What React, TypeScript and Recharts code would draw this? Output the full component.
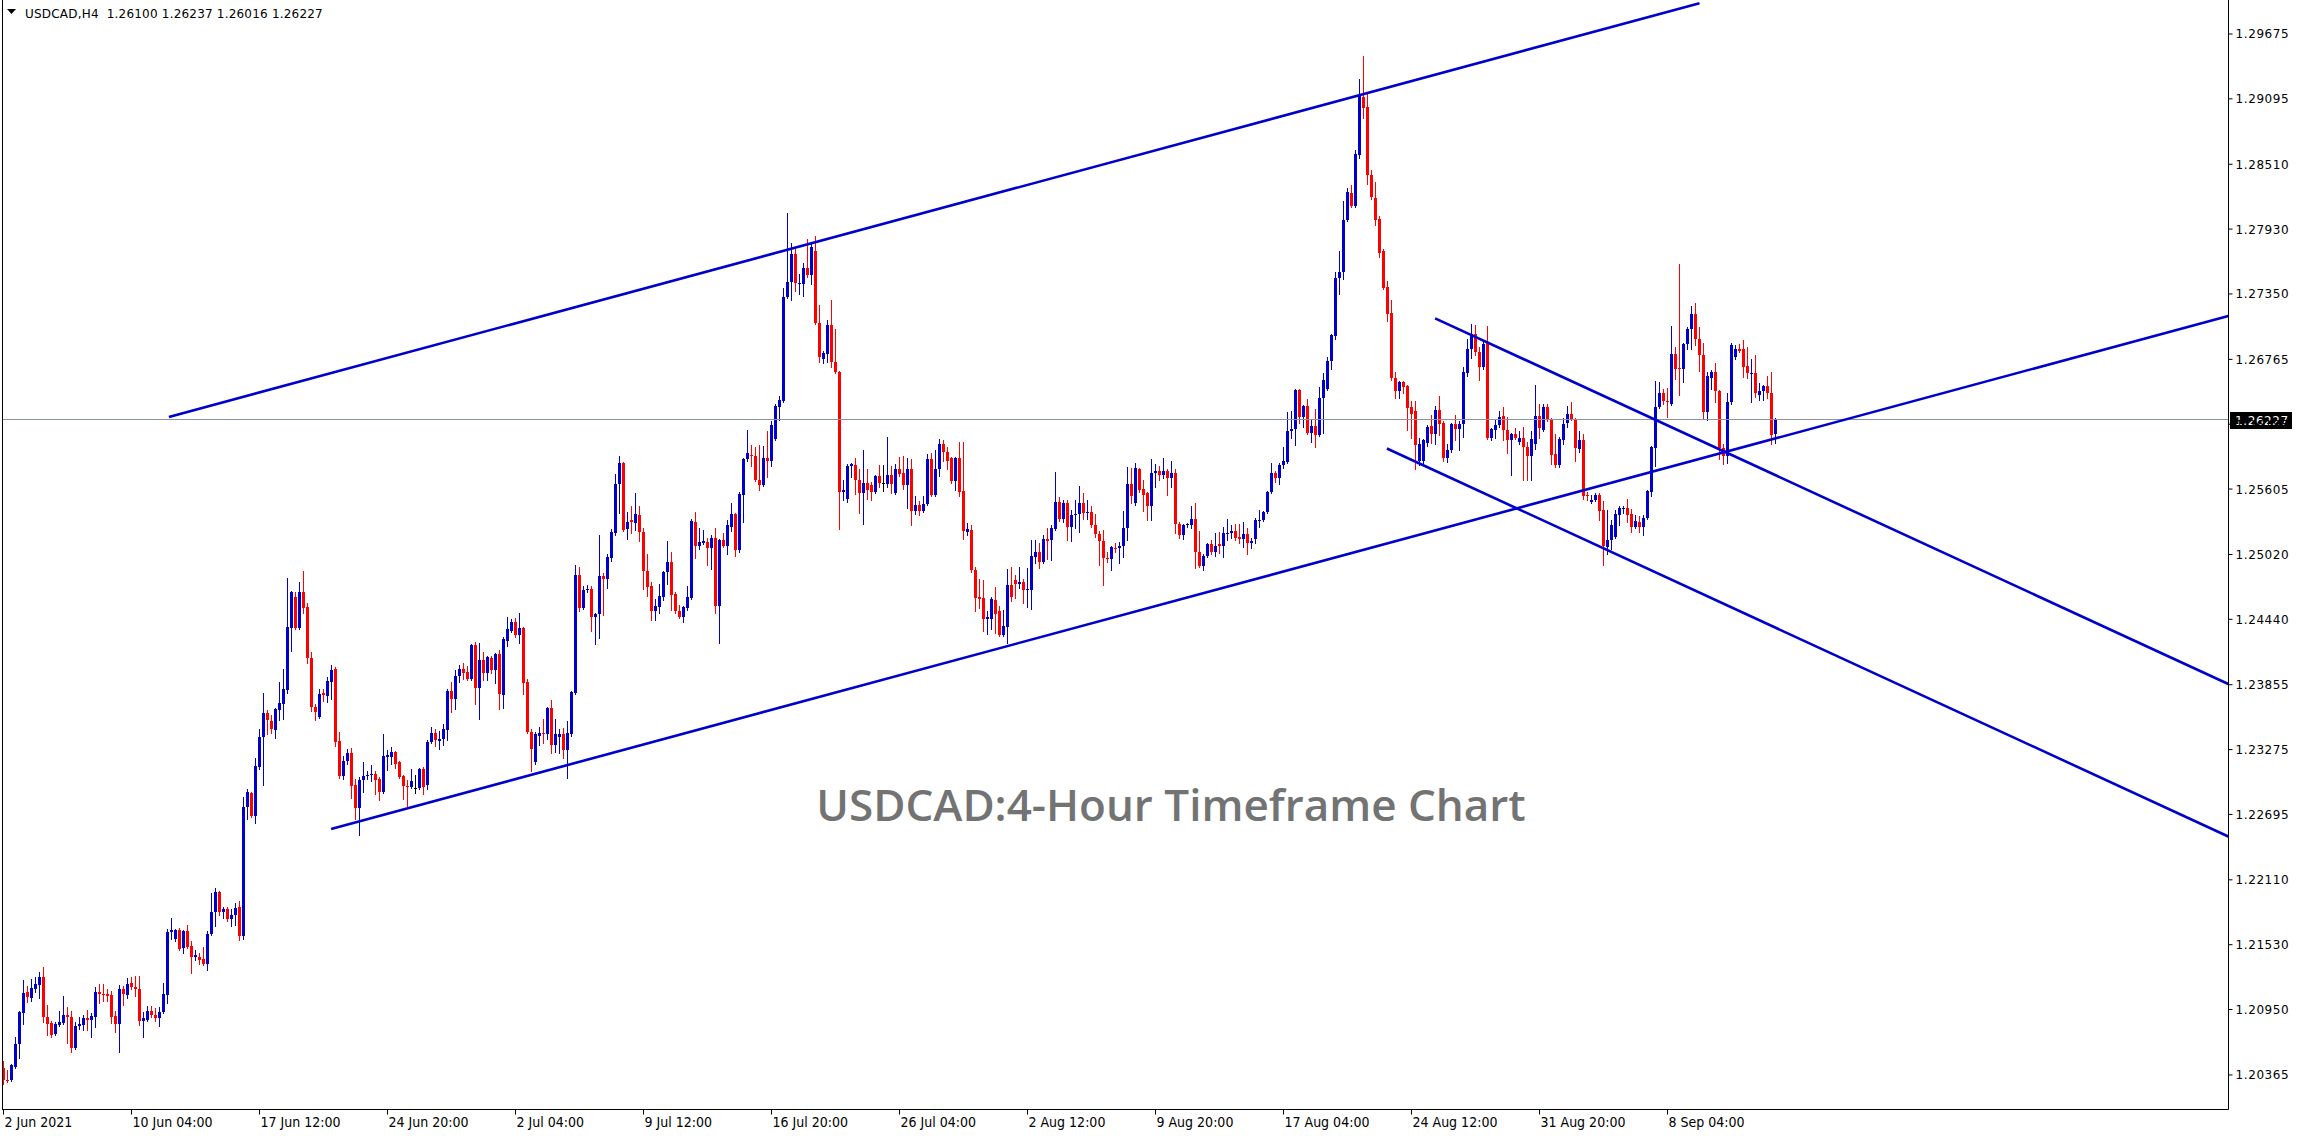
import React from 'react';
import { ComposedChart, Bar, XAxis, YAxis, ReferenceLine } from 'recharts';

// USDCAD H4 candles [open, high, low, close], bar index 0 = 2 Jun 2021 20:00
const JUN: number[][] = [
[1.2043,1.2049,1.2028,1.2032],[1.2032,1.2041,1.2030,1.2031],[1.2032,1.2046,1.2031,1.2045],[1.2044,1.2070,1.2043,1.2064],
[1.2064,1.2094,1.2052,1.2093],[1.2092,1.2121,1.2082,1.2110],[1.2111,1.2116,1.2102,1.2106],[1.2105,1.2122,1.2103,1.2114],
[1.2113,1.2124,1.2111,1.2118],[1.2117,1.2129,1.2105,1.2124],[1.2124,1.2133,1.2084,1.2088],[1.2088,1.2099,1.2072,1.2082],
[1.2083,1.2085,1.2070,1.2072],[1.2073,1.2084,1.2072,1.2082],[1.2081,1.2094,1.2080,1.2084],[1.2083,1.2107,1.2082,1.2090],
[1.2090,1.2097,1.2065,1.2088],[1.2088,1.2094,1.2057,1.2061],[1.2061,1.2084,1.2060,1.2080],[1.2080,1.2088,1.2078,1.2082],
[1.2081,1.2090,1.2077,1.2087],[1.2087,1.2095,1.2077,1.2086],[1.2086,1.2092,1.2070,1.2089],[1.2088,1.2115,1.2079,1.2111],
[1.2111,1.2118,1.2101,1.2109],[1.2109,1.2118,1.2103,1.2108],[1.2109,1.2113,1.2103,1.2107],[1.2108,1.2112,1.2083,1.2088],
[1.2089,1.2094,1.2075,1.2082],[1.2082,1.2117,1.2057,1.2113],[1.2113,1.2116,1.2099,1.2109],[1.2108,1.2123,1.2105,1.2118],
[1.2119,1.2124,1.2113,1.2115],[1.2115,1.2125,1.2107,1.2113],[1.2113,1.2125,1.2081,1.2085],[1.2085,1.2093,1.2070,1.2087],
[1.2086,1.2098,1.2085,1.2094],[1.2094,1.2098,1.2088,1.2090],[1.2090,1.2096,1.2085,1.2087],[1.2087,1.2097,1.2080,1.2093],
[1.2093,1.2119,1.2092,1.2109],[1.2108,1.2167,1.2101,1.2164],[1.2164,1.2177,1.2158,1.2166],[1.2158,1.2167,1.2156,1.2166],
[1.2166,1.2168,1.2148,1.2149],[1.2150,1.2166,1.2146,1.2165],[1.2165,1.2171,1.2150,1.2151],[1.2152,1.2156,1.2128,1.2142],
[1.2142,1.2148,1.2139,1.2144],[1.2142,1.2146,1.2136,1.2139],[1.2140,1.2151,1.2135,1.2136],[1.2136,1.2165,1.2130,1.2163],
[1.2163,1.2199,1.2162,1.2182],[1.2182,1.2204,1.2170,1.2200],[1.2200,1.2201,1.2180,1.2182],[1.2182,1.2187,1.2177,1.2185],
[1.2185,1.2187,1.2174,1.2176],[1.2176,1.2185,1.2170,1.2180],[1.2180,1.2190,1.2171,1.2186],[1.2187,1.2192,1.2157,1.2161],
[1.2161,1.2285,1.2158,1.2276],[1.2276,1.2292,1.2265,1.2290],[1.2289,1.2290,1.2267,1.2268],[1.2268,1.2320,1.2262,1.2313],
[1.2312,1.2346,1.2310,1.2339],[1.2339,1.2378,1.2296,1.2360],[1.2360,1.2363,1.2341,1.2354],[1.2353,1.2358,1.2342,1.2346],
[1.2345,1.2365,1.2338,1.2364],[1.2363,1.2388,1.2354,1.2369],[1.2368,1.2400,1.2355,1.2382],[1.2381,1.2481,1.2378,1.2437],
[1.2436,1.2469,1.2416,1.2468],[1.2464,1.2468,1.2435,1.2436],[1.2436,1.2477,1.2435,1.2468],[1.2468,1.2487,1.2450,1.2454],
[1.2455,1.2459,1.2405,1.2409],[1.2409,1.2415,1.2362,1.2366],[1.2366,1.2368,1.2354,1.2361],[1.2357,1.2382,1.2356,1.2377],
[1.2378,1.2382,1.2371,1.2376],[1.2375,1.2392,1.2370,1.2389],[1.2388,1.2403,1.2373,1.2399],[1.2400,1.2401,1.2331,1.2334],
[1.2335,1.2343,1.2302,1.2304],[1.2304,1.2322,1.2301,1.2317],[1.2317,1.2328,1.2315,1.2324],[1.2324,1.2329,1.2284,1.2295],
[1.2296,1.2301,1.2265,1.2275],[1.2275,1.2303,1.2251,1.2300],[1.2300,1.2316,1.2290,1.2304],[1.2304,1.2308,1.2301,1.2305],
[1.2305,1.2314,1.2299,1.2306],[1.2306,1.2308,1.2288,1.2300],[1.2301,1.2303,1.2282,1.2290],[1.2290,1.2341,1.2289,1.2322],
[1.2321,1.2327,1.2309,1.2323],[1.2321,1.2330,1.2315,1.2325],[1.2325,1.2326,1.2311,1.2315],[1.2316,1.2317,1.2302,1.2303],
[1.2304,1.2305,1.2283,1.2295],[1.2295,1.2300,1.2275,1.2294],[1.2294,1.2310,1.2293,1.2299],[1.2293,1.2305,1.2289,1.2293],
[1.2293,1.2311,1.2292,1.2310],[1.2310,1.2312,1.2288,1.2294],[1.2296,1.2336,1.2292,1.2334],[1.2334,1.2348,1.2333,1.2342],
[1.2342,1.2346,1.2331,1.2336],[1.2335,1.2344,1.2328,1.2337],[1.2337,1.2350,1.2332,1.2346],[1.2345,1.2382,1.2336,1.2380],
[1.2380,1.2388,1.2361,1.2373],[1.2373,1.2399,1.2364,1.2393],[1.2393,1.2403,1.2388,1.2400],[1.2400,1.2405,1.2391,1.2396],
[1.2397,1.2402,1.2390,1.2391],[1.2391,1.2422,1.2390,1.2421],[1.2421,1.2424,1.2368,1.2383],[1.2383,1.2423,1.2355,1.2408],
[1.2408,1.2415,1.2390,1.2396],
];

const JUL: number[][] = [
[1.2396,1.2411,1.2390,1.2410],[1.2409,1.2411,1.2396,1.2399],[1.2399,1.2414,1.2387,1.2413],[1.2413,1.2417,1.2364,1.2377],
[1.2376,1.2428,1.2365,1.2426],[1.2425,1.2446,1.2420,1.2435],[1.2434,1.2444,1.2433,1.2442],[1.2442,1.2445,1.2428,1.2430],
[1.2430,1.2450,1.2423,1.2436],[1.2436,1.2437,1.2377,1.2387],[1.2388,1.2391,1.2342,1.2343],[1.2343,1.2346,1.2308,1.2328],
[1.2316,1.2343,1.2315,1.2341],[1.2340,1.2348,1.2332,1.2342],[1.2342,1.2355,1.2333,1.2341],[1.2341,1.2366,1.2337,1.2365],
[1.2365,1.2372,1.2324,1.2332],[1.2332,1.2355,1.2325,1.2341],[1.2339,1.2346,1.2324,1.2341],[1.2341,1.2347,1.2320,1.2327],
[1.2327,1.2353,1.2302,1.2342],[1.2341,1.2380,1.2340,1.2379],[1.2378,1.2493,1.2377,1.2484],[1.2484,1.2491,1.2451,1.2454],
[1.2454,1.2474,1.2453,1.2470],[1.2470,1.2475,1.2468,1.2471],[1.2471,1.2474,1.2434,1.2446],[1.2446,1.2450,1.2422,1.2449],
[1.2449,1.2519,1.2427,1.2483],[1.2483,1.2485,1.2448,1.2480],[1.2480,1.2502,1.2472,1.2500],[1.2499,1.2525,1.2496,1.2522],
[1.2521,1.2574,1.2519,1.2565],[1.2565,1.2590,1.2539,1.2584],[1.2584,1.2585,1.2523,1.2524],[1.2525,1.2540,1.2516,1.2531],
[1.2533,1.2545,1.2521,1.2531],[1.2530,1.2557,1.2524,1.2538],[1.2537,1.2545,1.2514,1.2522],[1.2522,1.2526,1.2471,1.2487],
[1.2487,1.2502,1.2465,1.2473],[1.2474,1.2477,1.2443,1.2451],[1.2451,1.2462,1.2443,1.2456],[1.2455,1.2476,1.2450,1.2465],
[1.2464,1.2487,1.2461,1.2486],[1.2486,1.2514,1.2476,1.2495],[1.2495,1.2504,1.2452,1.2466],[1.2467,1.2468,1.2450,1.2451],
[1.2451,1.2457,1.2445,1.2446],[1.2446,1.2456,1.2442,1.2455],[1.2454,1.2474,1.2452,1.2464],[1.2463,1.2534,1.2462,1.2532],
[1.2531,1.2540,1.2499,1.2510],[1.2510,1.2526,1.2507,1.2513],[1.2512,1.2524,1.2511,1.2514],[1.2513,1.2517,1.2493,1.2508],
[1.2508,1.2519,1.2489,1.2517],[1.2517,1.2526,1.2450,1.2456],[1.2456,1.2516,1.2423,1.2515],[1.2515,1.2521,1.2509,1.2510],
[1.2510,1.2533,1.2502,1.2528],[1.2527,1.2548,1.2523,1.2538],[1.2538,1.2539,1.2501,1.2506],[1.2506,1.2558,1.2504,1.2556],
[1.2555,1.2588,1.2531,1.2587],[1.2587,1.2613,1.2586,1.2593],[1.2591,1.2600,1.2581,1.2590],[1.2590,1.2598,1.2568,1.2569],
[1.2569,1.2600,1.2560,1.2564],[1.2564,1.2599,1.2563,1.2588],[1.2588,1.2612,1.2571,1.2586],[1.2586,1.2621,1.2581,1.2618],
[1.2605,1.2637,1.2604,1.2635],[1.2634,1.2644,1.2622,1.2640],[1.2639,1.2740,1.2638,1.2732],[1.2732,1.2807,1.2731,1.2746],
[1.2746,1.2781,1.2730,1.2771],[1.2771,1.2775,1.2738,1.2745],[1.2744,1.2753,1.2735,1.2745],[1.2744,1.2763,1.2733,1.2758],
[1.2758,1.2784,1.2750,1.2752],[1.2752,1.2781,1.2744,1.2777],[1.2773,1.2787,1.2708,1.2709],[1.2709,1.2725,1.2674,1.2679],
[1.2677,1.2684,1.2673,1.2682],[1.2681,1.2712,1.2674,1.2707],[1.2707,1.2730,1.2670,1.2674],[1.2674,1.2704,1.2664,1.2665],
[1.2665,1.2666,1.2525,1.2558],[1.2558,1.2569,1.2551,1.2560],[1.2552,1.2583,1.2549,1.2581],[1.2581,1.2584,1.2571,1.2583],
[1.2582,1.2588,1.2556,1.2569],[1.2569,1.2578,1.2539,1.2557],[1.2557,1.2595,1.2529,1.2566],[1.2566,1.2578,1.2552,1.2560],
[1.2564,1.2567,1.2551,1.2558],[1.2558,1.2573,1.2557,1.2572],[1.2572,1.2582,1.2562,1.2566],[1.2566,1.2582,1.2559,1.2566],
[1.2565,1.2607,1.2562,1.2573],[1.2573,1.2581,1.2557,1.2565],[1.2557,1.2583,1.2556,1.2578],[1.2578,1.2589,1.2572,1.2574],
[1.2575,1.2590,1.2561,1.2564],[1.2564,1.2588,1.2544,1.2578],[1.2578,1.2587,1.2528,1.2541],[1.2541,1.2554,1.2538,1.2546],
[1.2546,1.2550,1.2537,1.2541],[1.2541,1.2554,1.2540,1.2547],[1.2547,1.2592,1.2546,1.2587],[1.2587,1.2593,1.2554,1.2555],
[1.2555,1.2595,1.2554,1.2578],[1.2578,1.2605,1.2572,1.2601],[1.2601,1.2604,1.2586,1.2594],[1.2594,1.2598,1.2578,1.2586],
[1.2588,1.2589,1.2566,1.2568],[1.2568,1.2589,1.2560,1.2588],[1.2588,1.2603,1.2554,1.2558],[1.2559,1.2603,1.2516,1.2523],
[1.2522,1.2530,1.2519,1.2525],[1.2524,1.2528,1.2486,1.2488],[1.2488,1.2491,1.2451,1.2463],[1.2464,1.2480,1.2454,1.2462],
[1.2463,1.2479,1.2434,1.2444],[1.2444,1.2451,1.2431,1.2446],[1.2444,1.2464,1.2435,1.2462],[1.2461,1.2473,1.2432,1.2449],
[1.2451,1.2456,1.2429,1.2430],[1.2430,1.2452,1.2429,1.2438],[1.2437,1.2489,1.2423,1.2475],[1.2475,1.2491,1.2460,1.2464],
];

const AUG: number[][] = [
[1.2479,1.2484,1.2463,1.2476],[1.2476,1.2491,1.2472,1.2477],[1.2477,1.2480,1.2459,1.2470],[1.2470,1.2490,1.2455,1.2471],
[1.2470,1.2515,1.2453,1.2501],[1.2500,1.2515,1.2494,1.2504],[1.2504,1.2512,1.2490,1.2495],[1.2495,1.2519,1.2494,1.2516],
[1.2516,1.2526,1.2498,1.2514],[1.2515,1.2528,1.2497,1.2526],[1.2525,1.2576,1.2524,1.2549],[1.2549,1.2553,1.2532,1.2534],
[1.2534,1.2551,1.2531,1.2548],[1.2548,1.2551,1.2515,1.2527],[1.2527,1.2542,1.2514,1.2537],[1.2537,1.2551,1.2526,1.2538],
[1.2538,1.2563,1.2522,1.2548],[1.2548,1.2557,1.2534,1.2539],[1.2539,1.2551,1.2534,1.2540],[1.2540,1.2545,1.2527,1.2528],
[1.2528,1.2538,1.2518,1.2520],[1.2520,1.2523,1.2493,1.2514],[1.2514,1.2524,1.2475,1.2499],[1.2499,1.2504,1.2495,1.2498],
[1.2498,1.2510,1.2488,1.2509],[1.2508,1.2512,1.2504,1.2507],[1.2508,1.2513,1.2494,1.2510],[1.2510,1.2541,1.2500,1.2526],
[1.2526,1.2580,1.2515,1.2565],[1.2565,1.2579,1.2548,1.2554],[1.2548,1.2584,1.2546,1.2579],[1.2578,1.2579,1.2558,1.2560],
[1.2561,1.2569,1.2541,1.2555],[1.2557,1.2558,1.2533,1.2545],[1.2545,1.2587,1.2533,1.2575],[1.2575,1.2583,1.2562,1.2577],
[1.2577,1.2581,1.2569,1.2573],[1.2573,1.2588,1.2570,1.2577],[1.2577,1.2578,1.2555,1.2570],[1.2570,1.2586,1.2562,1.2575],
[1.2575,1.2578,1.2521,1.2529],[1.2529,1.2531,1.2517,1.2519],[1.2519,1.2529,1.2516,1.2528],[1.2528,1.2530,1.2527,1.2529],
[1.2528,1.2545,1.2526,1.2534],[1.2534,1.2548,1.2490,1.2504],[1.2504,1.2523,1.2491,1.2492],[1.2492,1.2502,1.2488,1.2501],
[1.2501,1.2512,1.2500,1.2511],[1.2511,1.2515,1.2502,1.2504],[1.2504,1.2521,1.2501,1.2510],[1.2511,1.2522,1.2503,1.2510],
[1.2510,1.2527,1.2500,1.2521],[1.2520,1.2534,1.2515,1.2521],[1.2521,1.2528,1.2517,1.2523],[1.2523,1.2529,1.2515,1.2517],
[1.2518,1.2529,1.2512,1.2516],[1.2516,1.2531,1.2509,1.2520],[1.2520,1.2526,1.2502,1.2512],[1.2512,1.2517,1.2508,1.2514],
[1.2516,1.2535,1.2512,1.2533],[1.2532,1.2542,1.2527,1.2533],[1.2533,1.2541,1.2532,1.2540],[1.2540,1.2559,1.2539,1.2558],
[1.2558,1.2584,1.2557,1.2575],[1.2575,1.2577,1.2567,1.2570],[1.2570,1.2584,1.2565,1.2582],[1.2582,1.2598,1.2579,1.2586],
[1.2585,1.2629,1.2584,1.2612],[1.2612,1.2630,1.2606,1.2614],[1.2614,1.2650,1.2600,1.2649],[1.2649,1.2650,1.2620,1.2625],
[1.2625,1.2636,1.2616,1.2635],[1.2635,1.2641,1.2610,1.2611],[1.2611,1.2623,1.2603,1.2617],[1.2617,1.2632,1.2598,1.2609],
[1.2609,1.2652,1.2608,1.2642],[1.2642,1.2664,1.2611,1.2658],[1.2650,1.2679,1.2649,1.2675],[1.2675,1.2699,1.2668,1.2698],
[1.2697,1.2755,1.2695,1.2749],[1.2749,1.2773,1.2735,1.2755],[1.2755,1.2818,1.2748,1.2801],[1.2801,1.2830,1.2800,1.2826],
[1.2825,1.2832,1.2813,1.2814],[1.2814,1.2864,1.2813,1.2860],[1.2859,1.2927,1.2857,1.2912],[1.2911,1.2948,1.2892,1.2901],
[1.2902,1.2914,1.2833,1.2841],[1.2841,1.2846,1.2820,1.2822],[1.2821,1.2835,1.2797,1.2801],[1.2802,1.2805,1.2768,1.2772],
[1.2773,1.2775,1.2739,1.2740],[1.2741,1.2747,1.2711,1.2717],[1.2718,1.2730,1.2658,1.2660],[1.2660,1.2665,1.2642,1.2648],
[1.2648,1.2657,1.2642,1.2656],[1.2656,1.2657,1.2646,1.2652],[1.2653,1.2654,1.2613,1.2633],[1.2634,1.2639,1.2606,1.2628],
[1.2630,1.2639,1.2578,1.2600],[1.2586,1.2606,1.2582,1.2601],[1.2586,1.2605,1.2584,1.2604],[1.2602,1.2618,1.2599,1.2616],
[1.2617,1.2627,1.2602,1.2610],[1.2610,1.2635,1.2601,1.2631],[1.2631,1.2644,1.2609,1.2619],[1.2620,1.2621,1.2586,1.2588],
[1.2588,1.2601,1.2585,1.2595],[1.2595,1.2620,1.2594,1.2619],[1.2619,1.2627,1.2604,1.2614],[1.2614,1.2621,1.2595,1.2619],
[1.2619,1.2670,1.2607,1.2665],[1.2664,1.2695,1.2662,1.2686],[1.2686,1.2708,1.2678,1.2699],[1.2699,1.2707,1.2680,1.2683],
[1.2683,1.2688,1.2658,1.2670],[1.2670,1.2694,1.2668,1.2690],[1.2691,1.2706,1.2605,1.2606],[1.2606,1.2615,1.2604,1.2614],
[1.2613,1.2622,1.2606,1.2618],[1.2618,1.2630,1.2616,1.2625],[1.2626,1.2634,1.2604,1.2613],[1.2613,1.2625,1.2593,1.2604],
[1.2604,1.2611,1.2573,1.2610],[1.2610,1.2615,1.2605,1.2606],[1.2603,1.2612,1.2601,1.2606],[1.2606,1.2616,1.2569,1.2598],
[1.2598,1.2603,1.2569,1.2590],[1.2590,1.2612,1.2569,1.2605],[1.2601,1.2654,1.2596,1.2626],[1.2626,1.2637,1.2606,1.2615],
];

const SEP: number[][] = [
[1.2613,1.2637,1.2612,1.2634],[1.2634,1.2637,1.2621,1.2622],[1.2622,1.2624,1.2583,1.2591],[1.2592,1.2610,1.2580,1.2582],
[1.2582,1.2607,1.2580,1.2605],[1.2604,1.2624,1.2601,1.2619],[1.2620,1.2635,1.2616,1.2628],[1.2628,1.2638,1.2622,1.2623],
[1.2622,1.2624,1.2586,1.2597],[1.2596,1.2612,1.2594,1.2604],[1.2604,1.2610,1.2552,1.2554],[1.2555,1.2558,1.2551,1.2554],
[1.2549,1.2555,1.2548,1.2551],[1.2551,1.2557,1.2550,1.2555],[1.2555,1.2557,1.2533,1.2541],[1.2542,1.2550,1.2493,1.2510],
[1.2509,1.2542,1.2502,1.2515],[1.2515,1.2533,1.2507,1.2528],[1.2518,1.2542,1.2517,1.2538],[1.2537,1.2545,1.2528,1.2544],
[1.2543,1.2545,1.2539,1.2544],[1.2544,1.2552,1.2531,1.2537],[1.2538,1.2543,1.2522,1.2527],[1.2527,1.2537,1.2526,1.2532],
[1.2531,1.2536,1.2522,1.2527],[1.2527,1.2537,1.2519,1.2535],[1.2535,1.2560,1.2534,1.2559],[1.2558,1.2599,1.2554,1.2598],
[1.2597,1.2657,1.2581,1.2634],[1.2634,1.2656,1.2633,1.2646],[1.2646,1.2650,1.2637,1.2639],[1.2639,1.2651,1.2625,1.2638],
[1.2637,1.2706,1.2636,1.2681],[1.2681,1.2688,1.2659,1.2668],[1.2669,1.2762,1.2645,1.2668],[1.2668,1.2691,1.2656,1.2690],
[1.2690,1.2705,1.2686,1.2704],[1.2704,1.2724,1.2686,1.2717],[1.2717,1.2727,1.2689,1.2695],[1.2695,1.2705,1.2666,1.2680],
[1.2680,1.2691,1.2624,1.2629],[1.2629,1.2665,1.2622,1.2662],[1.2660,1.2667,1.2650,1.2665],[1.2665,1.2673,1.2638,1.2648],
[1.2648,1.2649,1.2587,1.2597],[1.2597,1.2601,1.2583,1.2590],[1.2590,1.2646,1.2584,1.2638],[1.2638,1.2691,1.2637,1.2689],
[1.2679,1.2689,1.2677,1.2686],[1.2686,1.2690,1.2683,1.2684],[1.2686,1.2694,1.2661,1.2670],[1.2671,1.2688,1.2660,1.2664],
[1.2663,1.2677,1.2638,1.2664],[1.2664,1.2680,1.2643,1.2646],[1.2645,1.2655,1.2640,1.2648],[1.2648,1.2654,1.2640,1.2653],
[1.2653,1.2662,1.2642,1.2646],[1.2646,1.2665,1.2601,1.2609],[1.26100,1.26237,1.26016,1.26227],
];

const X_TICKS = [0, 32, 64, 96, 128, 160, 192, 224, 256, 288, 320, 352, 384, 416];
const X_LABELS = ['2 Jun 2021', '10 Jun 04:00', '17 Jun 12:00', '24 Jun 20:00', '2 Jul 04:00', '9 Jul 12:00',
  '16 Jul 20:00', '26 Jul 04:00', '2 Aug 12:00', '9 Aug 20:00', '17 Aug 04:00', '24 Aug 12:00', '31 Aug 20:00', '8 Sep 04:00'];
const Y_TICKS = [1.29675, 1.29095, 1.28510, 1.27930, 1.27350, 1.26765, 1.26185, 1.25605, 1.25020,
  1.24440, 1.23855, 1.23275, 1.22695, 1.22110, 1.21530, 1.20950, 1.20365];
const CURRENT_PRICE = 1.26227;
const SYMBOL = 'USDCAD,H4';
const LAST_OHLC = [1.26100, 1.26237, 1.26016, 1.26227];
const TITLE = 'USDCAD:4-Hour Timeframe Chart';

// trend lines: [barIndex, price] pairs
const TREND_UPPER = [[41.35, 1.2625], [424.0, 1.2995]];
const TREND_LOWER = [[81.9, 1.22565], [556.2, 1.27153]];
const TREND_DOWN_A = [[357.9, 1.27132], [556.2, 1.23862]];
const TREND_DOWN_B = [[345.85, 1.25968], [556.2, 1.22498]];
const TRENDS = [TREND_UPPER, TREND_LOWER, TREND_DOWN_A, TREND_DOWN_B];

const X_DOMAIN = [-0.125, 556.25];
const Y_DOMAIN = [1.20056, 1.29979];

const UP = '#0000CC';
const DOWN = '#FF0000';
const DOJI = '#000000';
const LINE_BLUE = '#0000CC';
const AXIS_FONT = '"DejaVu Sans", Verdana, sans-serif';

const ROWS = [...JUN, ...JUL, ...AUG, ...SEP];
const data = ROWS.map((r, i) => ({ i, open: r[0], high: r[1], low: r[2], close: r[3], range: [r[2], r[1]] }));

const Candle = (props: any) => {
  const { x, y, width, height, payload } = props;
  if (x == null || y == null || !payload) return null;
  const { open, close, high, low } = payload;
  const top = Math.min(y, y + height);
  const bot = Math.max(y, y + height);
  const span = high - low;
  const py = (p: number) => (span > 0 ? top + ((high - p) / span) * (bot - top) : top);
  const cx = Math.floor(x + width / 2) + 0.5;
  const color = close > open ? UP : close < open ? DOWN : DOJI;
  const bTop = Math.round(py(Math.max(open, close)));
  const bBot = Math.round(py(Math.min(open, close)));
  const yH = Math.round(py(high));
  const yL = Math.round(py(low));
  return (
    <g>
      <rect x={cx - 0.5} y={yH} width={1} height={Math.max(1, yL - yH + 1)} fill={color} />
      <rect x={cx - 1.5} y={bTop} width={3} height={Math.max(1, bBot - bTop)} fill={color} />
    </g>
  );
};

const YTick = (props: any) => {
  const { x, y, payload } = props;
  return (
    <text x={x} y={y + 4.5} fontSize={12} fontFamily={AXIS_FONT} fill="#000" textAnchor="start" letterSpacing={0.6}>
      {Number(payload.value).toFixed(5)}
    </text>
  );
};

const XTick = (props: any) => {
  const { x, y, payload } = props;
  const idx = X_TICKS.indexOf(payload.value);
  return (
    <text x={x + 1} y={y + 10} fontSize={14} fontFamily='"DejaVu Sans Condensed", "DejaVu Sans", sans-serif'
      style={{ fontStretch: 'condensed' }} fill="#000" textAnchor="start">
      {idx >= 0 ? X_LABELS[idx] : ''}
    </text>
  );
};

const PriceBox = (props: any) => {
  const vb = props.viewBox || {};
  const bx = (vb.x || 0) + (vb.width || 0) + 1.5;
  const by = (vb.y || 0);
  return (
    <g>
      <rect x={bx} y={Math.round(by) - 8} width={62} height={17} fill="#000" />
      <text x={bx + 5} y={Math.round(by) + 5} fontSize={12} fontFamily={AXIS_FONT} fill="#fff" letterSpacing={0.6}>
        {CURRENT_PRICE.toFixed(5)}
      </text>
    </g>
  );
};

export default function App() {
  return (
    <div style={{ position: 'absolute', left: 0, top: 0, width: 2300, height: 1136, background: '#fff', overflow: 'hidden' }}>
      <ComposedChart width={2300} height={1136} data={data} margin={{ top: 0, right: 0, bottom: 0, left: 3 }}>
        <XAxis dataKey="i" type="number" domain={X_DOMAIN} allowDataOverflow ticks={X_TICKS} interval={0}
          height={26.5} tickSize={5} tickMargin={2} stroke="#000" tick={<XTick />} />
        <YAxis orientation="right" type="number" domain={Y_DOMAIN} allowDataOverflow ticks={Y_TICKS} interval={0}
          width={71.5} tickSize={4} tickMargin={3} stroke="#000" tick={<YTick />} />
        <ReferenceLine y={CURRENT_PRICE} stroke="#8A949E" strokeWidth={1} label={<PriceBox />} />
        <Bar dataKey="range" shape={<Candle />} isAnimationActive={false} barSize={3} />
        {TRENDS.map((t, k) => (
          <ReferenceLine key={k} segment={[{ x: t[0][0], y: t[0][1] }, { x: t[1][0], y: t[1][1] }]}
            stroke={LINE_BLUE} strokeWidth={2.6} ifOverflow="visible" />
        ))}
      </ComposedChart>
      <div style={{ position: 'absolute', left: 2, top: 0, width: 1, height: 1110, background: '#000' }} />
      <svg width={2300} height={1136} style={{ position: 'absolute', left: 0, top: 0, pointerEvents: 'none' }}>
        <polygon points="7,9 16,9 11.5,14" fill="#000" />
        <text x={25} y={18} fontSize={12} fontFamily={AXIS_FONT} fill="#000" letterSpacing={0.2}>
          {SYMBOL + '\u00a0\u00a0' + LAST_OHLC.map((v) => v.toFixed(5)).join(' ')}
        </text>
        <text x={1171} y={821} fontSize={44} fontWeight={600} fontFamily='"Open Sans", sans-serif' fill="#737373" textAnchor="middle">
          {TITLE}
        </text>
      </svg>
    </div>
  );
}
